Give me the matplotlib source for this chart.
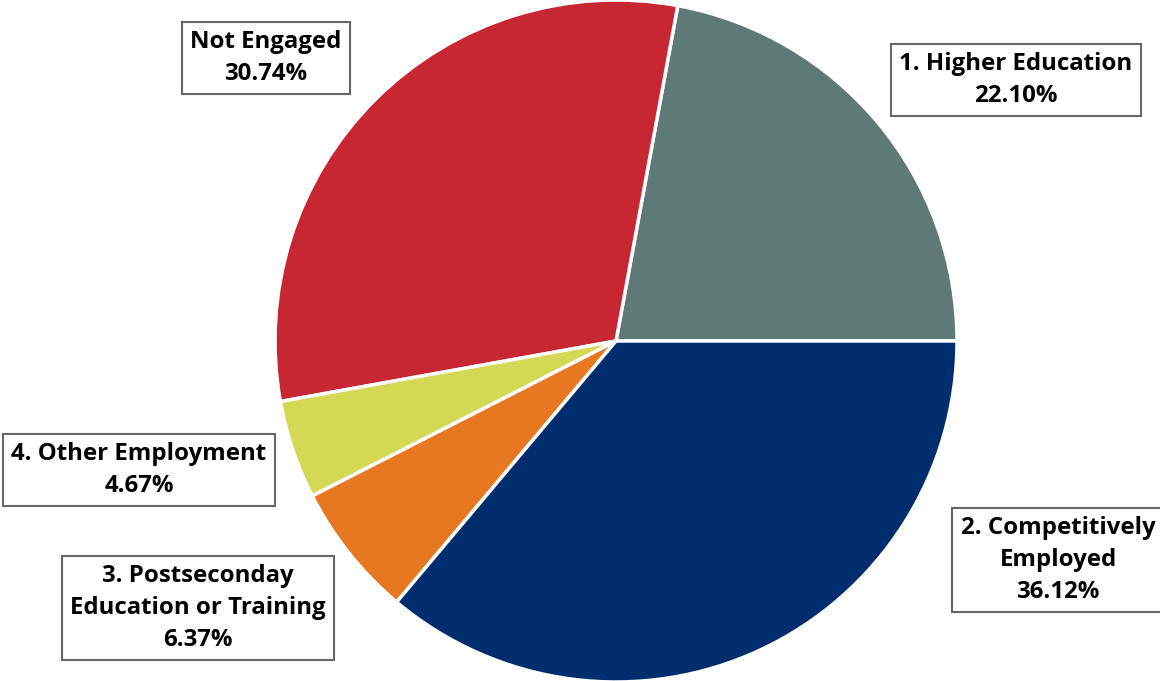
import matplotlib.pyplot as plt

# --- dados ---
categorias = ["1. Higher Education", "Not Engaged", "4. Other Employment",
              "3. Postseconday\nEducation or Training", "2. Competitively\nEmployed"]
valores = [22.10, 30.74, 4.67, 6.37, 36.12]
cores = ["#5f7a76", "#c72633", "#d4d955", "#e87722", "#002d6e"]

# posição dos rótulos (pixels, origem no canto inferior esquerdo)
rotulo_x = [1016, 266, 139, 198, 1058]
rotulo_y = [601, 623, 211, 73, 121]

plt.rcParams["font.family"] = ["Open Sans", "DejaVu Sans"]

fig = plt.figure(figsize=(11.6, 6.81), dpi=100)
ax = fig.add_axes([0, 0, 1, 1])

ax.pie(valores, colors=cores, startangle=0, counterclock=True,
       center=(616, 340), radius=341,
       wedgeprops=dict(edgecolor="white", linewidth=2.5))

ax.set_xlim(0, 1160)
ax.set_ylim(0, 681)
ax.set_aspect("equal")
ax.axis("off")

for cat, v, x, y in zip(categorias, valores, rotulo_x, rotulo_y):
    ax.text(x, y, f"{cat}\n{v:.2f}%", ha="center", va="center",
            fontsize=17.3, fontweight="bold", linespacing=1.42,
            bbox=dict(boxstyle="square,pad=0.36", facecolor="white",
                      edgecolor="#666666", linewidth=1.5))

fig.savefig("out.png", dpi=100)
